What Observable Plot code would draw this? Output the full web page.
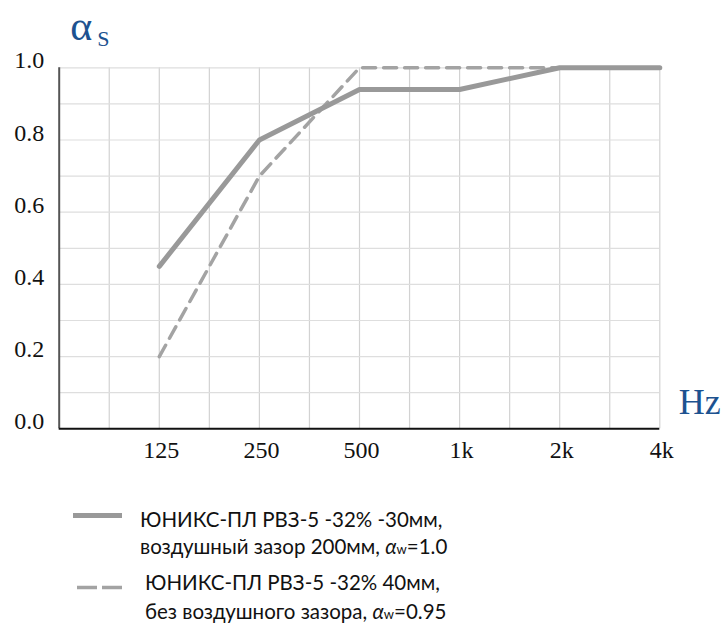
<!DOCTYPE html>
<html>
<head>
<meta charset="utf-8">
<script src="https://cdn.jsdelivr.net/npm/d3@7"></script>
<script src="https://cdn.jsdelivr.net/npm/@observablehq/plot@0.6"></script>
<style>
  body { margin: 0; background: #fff; }
  #wrap { position: relative; width: 723px; height: 630px; }
  #legend { position: absolute; left: 0; top: 470px; }
</style>
</head>
<body>
<div id="wrap"><div id="chart"></div><svg id="legend" width="723" height="160"></svg></div>
<script>
const freqLabels = ["125", "250", "500", "1k", "2k", "4k"];
const seriesSolid = [0.45, 0.80, 0.94, 0.94, 1.0, 1.0];
const seriesDashed = [0.20, 0.70, 1.0, 1.0, 1.0, 1.0];
const yTicks = [0, 0.2, 0.4, 0.6, 0.8, 1.0];
const legendSolid = ["ЮНИКС-ПЛ РВЗ-5 -32% -30мм,", "воздушный зазор 200мм, ", "1.0"];
const legendDashed = ["ЮНИКС-ПЛ РВЗ-5 -32% 40мм,", "без воздушного зазора, ", "0.95"];

const solidData = freqLabels.map((f, i) => ({i, f, v: seriesSolid[i]}));
const dashedData = freqLabels.map((f, i) => ({i, f, v: seriesDashed[i]}));

const blue = "#1d5290";
const serif = "Liberation Serif";

const chart = Plot.plot({
  width: 723,
  height: 470,
  marginLeft: 58.7,
  marginRight: 63.7,
  marginTop: 67.3,
  marginBottom: 41.7,
  style: {fontFamily: serif, background: "#fff", overflow: "visible"},
  x: {domain: [-1, 5], axis: null},
  y: {domain: [0, 1], axis: null},
  marks: [
    Plot.gridX(d3.range(-0.5, 5.01, 0.5), {stroke: "#d2d2d2", strokeOpacity: 1, strokeWidth: 1.2}),
    Plot.gridY(d3.range(0.1, 1.01, 0.1), {stroke: "#dedede", strokeOpacity: 1, strokeWidth: 1.2}),
    Plot.ruleX([-1], {stroke: "#555", strokeWidth: 2}),
    Plot.ruleY([0], {stroke: "#111", strokeWidth: 2}),
    Plot.line(dashedData, {x: "i", y: "v", stroke: "#a3a3a3", strokeWidth: 3.5, strokeDasharray: "13,8"}),
    Plot.line(solidData, {x: "i", y: "v", stroke: "#999", strokeWidth: 5}),
    Plot.text(d3.range(freqLabels.length), {x: d => d, text: i => freqLabels[i], frameAnchor: "bottom", lineAnchor: "top", dy: 12, dx: 2, fontSize: 24, fontFamily: serif, fill: "#111"}),
    Plot.text(yTicks, {y: d => d, text: d => d.toFixed(1), frameAnchor: "left", textAnchor: "end", dx: -15, dy: -7, fontSize: 24, fontFamily: serif, fill: "#111"}),
    Plot.text(["α"], {frameAnchor: "top-left", textAnchor: "start", lineAnchor: "bottom", dx: 11, dy: -28, fontSize: 42, fontFamily: serif, fill: blue}),
    Plot.text(["S"], {frameAnchor: "top-left", textAnchor: "start", lineAnchor: "bottom", dx: 38, dy: -22, fontSize: 22, fontFamily: serif, fill: blue}),
    Plot.text(["Hz"], {frameAnchor: "bottom-right", textAnchor: "start", lineAnchor: "bottom", dx: 19, dy: -15, fontSize: 36, fontFamily: serif, fill: blue})
  ]
});
document.getElementById("chart").appendChild(chart);

// legend
const lg = d3.select("#legend");
const off = 470;
const font = "Lato";
lg.append("line").attr("x1", 73).attr("x2", 122).attr("y1", 515.5 - off).attr("y2", 515.5 - off)
  .attr("stroke", "#999").attr("stroke-width", 5);
lg.append("line").attr("x1", 77).attr("x2", 122).attr("y1", 587.5 - off).attr("y2", 587.5 - off)
  .attr("stroke", "#a3a3a3").attr("stroke-width", 3.5).attr("stroke-dasharray", "20,5");

function legendText(x, y1, y2, lines) {
  lg.append("text").attr("x", x).attr("y", y1 - off).attr("font-family", font).attr("font-size", 20.5).attr("fill", "#111").text(lines[0]);
  const t = lg.append("text").attr("x", x).attr("y", y2 - off).attr("font-family", font).attr("font-size", 20.5).attr("fill", "#111");
  t.append("tspan").text(lines[1]);
  t.append("tspan").attr("font-style", "italic").text("α");
  t.append("tspan").attr("font-size", 13).text("w");
  t.append("tspan").text("=" + lines[2]);
}
legendText(140, 527, 554, legendSolid);
legendText(145, 590, 619, legendDashed);
</script>
</body>
</html>
